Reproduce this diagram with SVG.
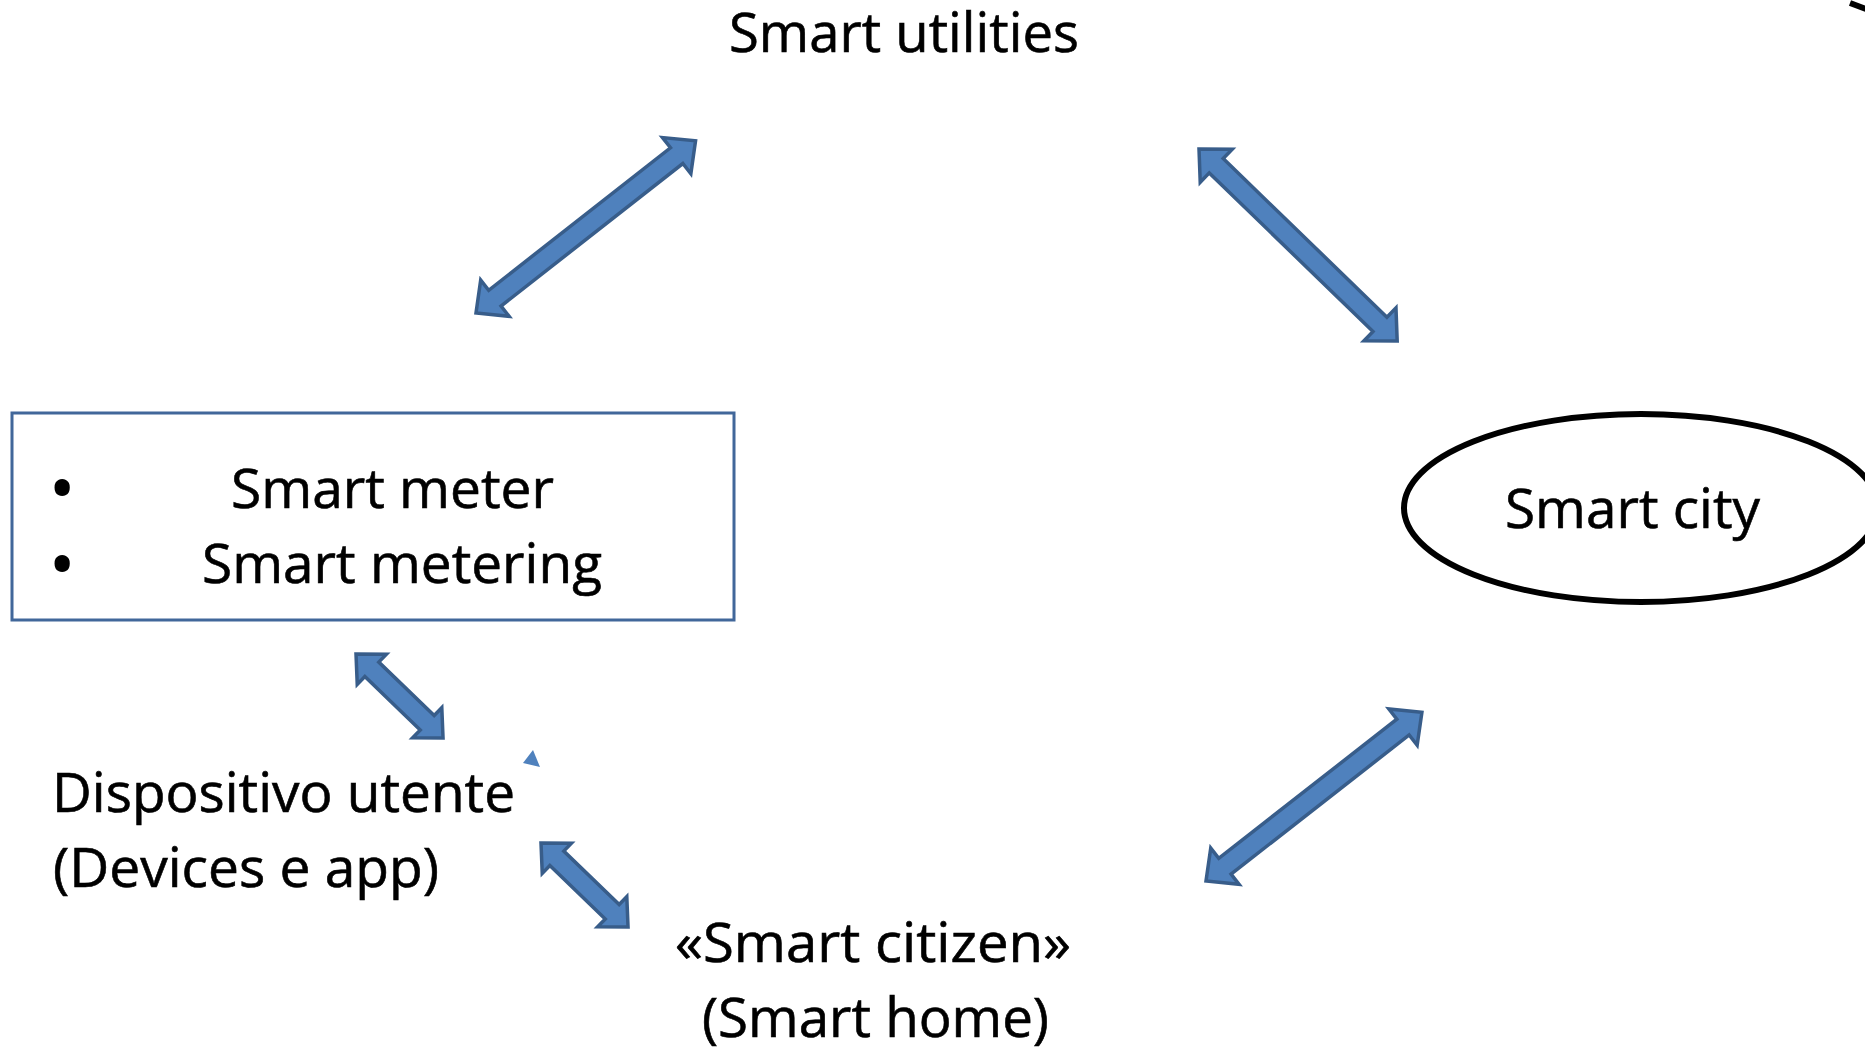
<svg xmlns="http://www.w3.org/2000/svg" width="1865" height="1049" viewBox="0 0 1865 1049">
<style>
.t{font-family:"Open Sans","Liberation Sans",sans-serif;font-size:54px;fill:#000;stroke:#000;stroke-width:0.6}
.b{font-family:"Open Sans","Liberation Sans",sans-serif;font-size:54px;fill:#000;stroke:#000;stroke-width:4;stroke-linejoin:round}
.arr{fill:#4F81BD;stroke:#385D8A;stroke-width:3.5;stroke-linejoin:miter}
</style>
<rect width="1865" height="1049" fill="#fff"/>
<g id="connectors">
<path class="arr" transform="translate(476,313) rotate(-38.1)" d="M0,0 L24,-23 L24,-10 L255,-10 L255,-23 L279,0 L255,23 L255,10 L24,10 L24,23 Z"/>
<path class="arr" transform="translate(1199,149) rotate(44.1)" d="M0,0 L24,-23 L24,-10 L252,-10 L252,-23 L276,0 L252,23 L252,10 L24,10 L24,23 Z"/>
<path class="arr" transform="translate(356,654) rotate(44)" d="M0,0 L22,-21 L22,-10 L99,-10 L99,-21 L121,0 L99,21 L99,10 L22,10 L22,21 Z"/>
<path class="arr" transform="translate(1206,881) rotate(-38)" d="M0,0 L24,-23 L24,-10 L250,-10 L250,-23 L274,0 L250,23 L250,10 L24,10 L24,23 Z"/>
<path class="arr" transform="translate(541,843) rotate(44)" d="M0,0 L22,-21 L22,-10 L99,-10 L99,-21 L121,0 L99,21 L99,10 L22,10 L22,21 Z"/>
<path fill="#4F81BD" d="M533,750 L523,763 L540,767 Z"/>
</g>
<g id="smart-utilities">
<text class="t" x="729" y="52" textLength="350" lengthAdjust="spacingAndGlyphs">Smart utilities</text>
</g>
<g id="smart-meter-box">
<rect x="12" y="413" width="722" height="207" fill="#fff" stroke="#41679A" stroke-width="3"/>
<text class="b" x="52" y="508">•</text>
<text class="b" x="52" y="584">•</text>
<text class="t" x="231" y="508" textLength="323" lengthAdjust="spacingAndGlyphs">Smart meter</text>
<text class="t" x="202" y="583" textLength="400" lengthAdjust="spacingAndGlyphs">Smart metering</text>
</g>
<g id="smart-city">
<ellipse cx="1641" cy="508" rx="237" ry="94" fill="#fff" stroke="#000" stroke-width="6"/>
<text class="t" x="1505" y="528" textLength="255" lengthAdjust="spacingAndGlyphs">Smart city</text>
</g>
<g id="dispositivo-utente">
<text class="t" x="52" y="812" textLength="463" lengthAdjust="spacingAndGlyphs">Dispositivo utente</text>
<text class="t" x="53" y="887" textLength="386" lengthAdjust="spacingAndGlyphs">(Devices e app)</text>
</g>
<g id="smart-citizen">
<text class="t" x="675" y="962" textLength="396" lengthAdjust="spacingAndGlyphs">«Smart citizen»</text>
<text class="t" x="702" y="1037" textLength="347" lengthAdjust="spacingAndGlyphs">(Smart home)</text>
</g>
<path d="M1850,3 L1866,9" stroke="#000" stroke-width="6" fill="none"/>
</svg>
